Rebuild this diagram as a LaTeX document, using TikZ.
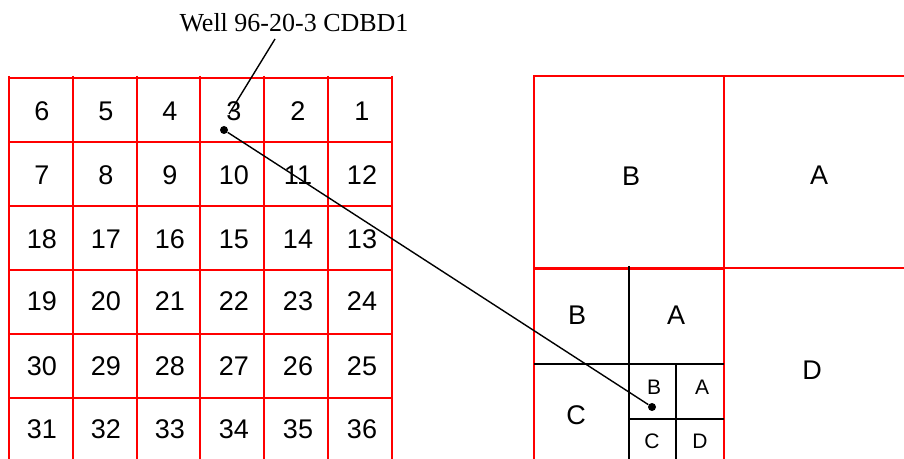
\documentclass[tikz,border=0pt]{standalone}
\usepackage{fontspec}
\setmainfont{Liberation Sans}
\newfontfamily\wellfont{Liberation Serif}
\usetikzlibrary{positioning}

\begin{document}
\begin{tikzpicture}[
    x=0.5pt, y=-0.5pt,
    grid/.style={red, line width=1pt},
    sub/.style={black, line width=0.75pt},
    num/.style={font=\fontsize{13.5}{16}\selectfont, inner sep=0pt},
    small/.style={font=\fontsize{10.5}{12}\selectfont, inner sep=0pt},
    dot/.style={circle, fill, inner sep=0pt, minimum size=4pt},
    leader/.style={black, line width=0.7pt}
]
\useasboundingbox (0,0) rectangle (904,459);

% Township grid
\foreach \i in {0,...,6} \draw[grid] ({9+63.83*\i},76) -- ({9+63.83*\i},459);
\foreach \j in {0,...,5} \draw[grid] (9,{78+64*\j}) -- (392,{78+64*\j});

% Section numbers
\foreach \lst/\y in {{6,5,4,3,2,1}/111,{7,8,9,10,11,12}/175,{18,17,16,15,14,13}/239,{19,20,21,22,23,24}/301,{30,29,28,27,26,25}/366,{31,32,33,34,35,36}/429}
  \foreach \n [count=\i from 0] in \lst
    \node[num] (sec\n) at ({42+64*\i},\y) {\n};

% Quarter sections
\draw[grid] (534,76) rectangle (724,268);
\draw[grid] (724,76) -- (904,76);
\draw[grid] (724,268) -- (904,268);
\draw[grid] (534,459) -- (534,269) -- (724,269) -- (724,459);

% Quarter-quarter and smaller
\draw[sub] (629,266) -- (629,459);
\draw[sub] (534,364) -- (724,364);
\draw[sub] (676,364) -- (676,459);
\draw[sub] (629,419) -- (724,419);

\node[num] (qB) at (631,176) {B};
\node[num] (qA) at (819,175) {A};
\node[num] (qD) at (812,370) {D};
\node[num] (hB) at (577,315) {B};
\node[num] (hA) at (676,315) {A};
\node[num] (hC) at (576,415) {C};
\node[small] (tB) at (654,387) {B};
\node[small] (tA) at (702,387) {A};
\node[small] (tC) at (652,441) {C};
\node[small] (tD) at (700,441) {D};

% Well location
\node[font=\wellfont\fontsize{13}{15}\selectfont, inner sep=0pt] (well) at (294,23) {Well 96-20-3 CDBD1};
\node[dot] (wsec) at (224,130) {};
\node[dot] (wqtr) at (652,407) {};
\coordinate (lead) at (275,39);
\coordinate (tip) at (229,114);
\draw[leader] (lead) -- (tip);
\draw[leader] (wsec) -- (wqtr);

\end{tikzpicture}
\end{document}
